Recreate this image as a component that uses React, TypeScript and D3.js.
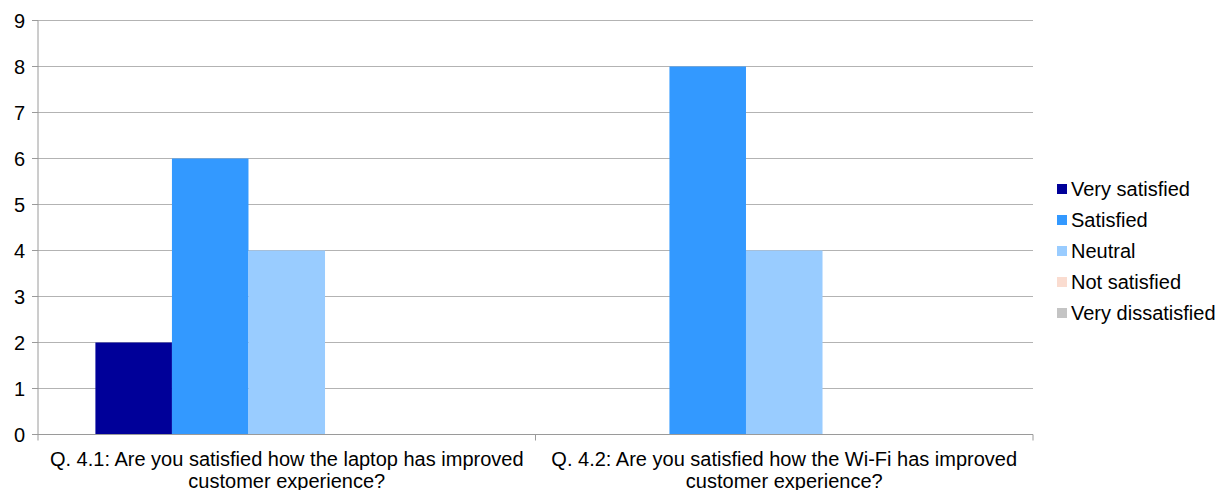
import React from "react";
import * as d3 from "d3";

const categories: string[][] = [
  ["Q. 4.1: Are you satisfied how the laptop has improved", "customer experience?"],
  ["Q. 4.2: Are you satisfied how the Wi-Fi has improved", "customer experience?"],
];
const seriesNames = ["Very satisfied", "Satisfied", "Neutral", "Not satisfied", "Very dissatisfied"];
const seriesColors = ["#000099", "#3399FF", "#99CCFF", "#FADCD0", "#C4C4C4"];
const veryS = [2, 0];
const satisfied = [6, 8];
const neutral = [4, 4];
const notS = [0, 0];
const veryD = [0, 0];
const seriesValues = [veryS, satisfied, neutral, notS, veryD];
const yTicks = [0, 1, 2, 3, 4, 5, 6, 7, 8, 9];

const W = 1232;
const H = 490;
const left = 38;
const right = 1033;
const top = 20.5;
const bottom = 434.5;
const font = "'Liberation Sans', Arial, sans-serif";
const fs = 20;

export default function App() {
  const x0 = d3
    .scaleBand<number>()
    .domain(categories.map((_, i) => i))
    .range([left, right]);
  const bw = x0.bandwidth();
  const barW = bw / (seriesNames.length + 1.5);
  const x1 = d3
    .scaleBand<number>()
    .domain(seriesNames.map((_, i) => i))
    .range([barW * 0.75, bw - barW * 0.75])
    .padding(0);
  const y = d3.scaleLinear().domain([0, 9]).range([bottom, top]);

  return (
    <svg
      width={W}
      height={H}
      style={{ position: "absolute", left: 0, top: 0, background: "#fff" }}
      fontFamily={font}
    >
      {/* gridlines and y ticks */}
      {yTicks.map((t) => (
        <g key={t}>
          {t > 0 && (
            <line x1={left} x2={right} y1={y(t)} y2={y(t)} stroke="#B3B3B3" strokeWidth={1} />
          )}
          <line x1={left - 6} x2={left} y1={y(t)} y2={y(t)} stroke="#9A9A9A" strokeWidth={1} />
          <text x={25} y={y(t)} dy="0.35em" textAnchor="end" fontSize={fs} fill="#000">
            {t}
          </text>
        </g>
      ))}

      {/* bars */}
      {categories.map((_, ci) =>
        seriesValues.map((vals, si) =>
          vals[ci] > 0 ? (
            <rect
              key={`${ci}-${si}`}
              x={(x0(ci) as number) + (x1(si) as number)}
              y={y(vals[ci])}
              width={x1.bandwidth()}
              height={y(0) - y(vals[ci])}
              fill={seriesColors[si]}
            />
          ) : null
        )
      )}

      {/* axes */}
      <line x1={left} x2={left} y1={top} y2={bottom} stroke="#9A9A9A" strokeWidth={1} />
      <line x1={left - 6} x2={right} y1={bottom} y2={bottom} stroke="#9A9A9A" strokeWidth={1} />
      {[0, 1, 2].map((i) => {
        const xv = left + i * bw;
        return (
          <line key={i} x1={xv} x2={xv} y1={bottom} y2={bottom + 6} stroke="#9A9A9A" strokeWidth={1} />
        );
      })}

      {/* category labels */}
      {categories.map((lines, ci) => (
        <text
          key={ci}
          x={(x0(ci) as number) + bw / 2}
          textAnchor="middle"
          fontSize={fs}
          fill="#000"
        >
          {lines.map((l, li) => (
            <tspan key={li} x={(x0(ci) as number) + bw / 2} y={466 + li * 22}>
              {l}
            </tspan>
          ))}
        </text>
      ))}

      {/* legend */}
      {seriesNames.map((n, i) => {
        const ly = 189 + i * 31;
        return (
          <g key={n}>
            <rect x={1057} y={ly - 5} width={10} height={10} fill={seriesColors[i]} />
            <text x={1071} y={ly} dy="0.35em" fontSize={fs} fill="#000">
              {n}
            </text>
          </g>
        );
      })}
    </svg>
  );
}
